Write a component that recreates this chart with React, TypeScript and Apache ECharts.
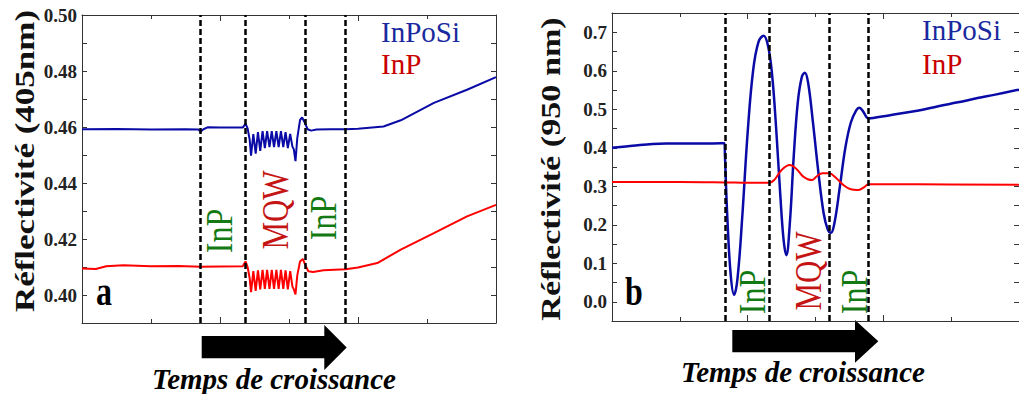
import React, { useEffect, useRef } from "react";
import * as echarts from "echarts";

// ---------- Panel a (405 nm) ----------
const aBlueX = [0, 0.5, 1.0, 1.5, 1.69, 1.717, 1.76, 1.82, 2.0, 2.33, 2.37, 2.40, 2.43, 2.45, 2.483, 2.517, 2.55, 2.583, 2.617, 2.65, 2.683, 2.717, 2.75, 2.783, 2.817, 2.85, 2.883, 2.917, 2.95, 2.983, 3.017, 3.05, 3.07, 3.094, 3.12, 3.16, 3.19, 3.23, 3.27, 3.32, 3.4, 3.6, 3.82, 4.0, 4.37, 4.62, 5.1, 5.58, 6.0];
const aBlueY = [0.4592, 0.4593, 0.4591, 0.4592, 0.4591, 0.4583, 0.4592, 0.4599, 0.4598, 0.4598, 0.4612, 0.4595, 0.4555, 0.4498, 0.4575, 0.4505, 0.4582, 0.4515, 0.4585, 0.4525, 0.4585, 0.4528, 0.4585, 0.4528, 0.4585, 0.4528, 0.4585, 0.4528, 0.4582, 0.4525, 0.4575, 0.4530, 0.4520, 0.4478, 0.4560, 0.4625, 0.4634, 0.4615, 0.4592, 0.4587, 0.4591, 0.4592, 0.4592, 0.4594, 0.4602, 0.4624, 0.4686, 0.4733, 0.4778];
const aRedX = [0, 0.2, 0.35, 0.6, 1.0, 1.4, 1.717, 2.0, 2.33, 2.37, 2.40, 2.43, 2.45, 2.483, 2.517, 2.55, 2.583, 2.617, 2.65, 2.683, 2.717, 2.75, 2.783, 2.817, 2.85, 2.883, 2.917, 2.95, 2.983, 3.017, 3.05, 3.07, 3.094, 3.12, 3.16, 3.20, 3.24, 3.28, 3.35, 3.5, 3.82, 4.0, 4.28, 4.62, 5.1, 5.58, 6.0];
const aRedY = [0.4095, 0.4093, 0.4103, 0.4106, 0.4103, 0.4104, 0.4101, 0.4102, 0.4103, 0.4120, 0.4100, 0.4060, 0.4010, 0.4085, 0.4015, 0.4088, 0.4020, 0.4090, 0.4022, 0.4090, 0.4022, 0.4090, 0.4022, 0.4090, 0.4022, 0.4090, 0.4022, 0.4088, 0.4020, 0.4085, 0.4030, 0.4020, 0.4002, 0.4070, 0.4120, 0.4129, 0.4105, 0.4085, 0.4082, 0.4088, 0.4092, 0.4098, 0.4114, 0.4162, 0.4221, 0.4281, 0.4322];
const aDividers = [1.717, 2.37, 3.244, 3.822];

// ---------- Panel b (950 nm) ----------
const bBlueX = [0, 0.3, 0.6, 0.8, 1.2, 1.658, 1.665, 1.70, 1.75, 1.80, 1.85, 1.92, 2.00, 2.08, 2.16, 2.236, 2.30, 2.36, 2.42, 2.48, 2.53, 2.57, 2.62, 2.68, 2.74, 2.80, 2.843, 2.89, 2.96, 3.04, 3.12, 3.18, 3.227, 3.28, 3.36, 3.44, 3.52, 3.60, 3.647, 3.70, 3.75, 3.783, 3.85, 4.08, 4.5, 4.81, 5.1, 5.39, 5.65, 6.0];
const bBlueY = [0.400, 0.405, 0.410, 0.411, 0.411, 0.412, 0.380, 0.220, 0.070, 0.018, 0.060, 0.220, 0.440, 0.600, 0.675, 0.691, 0.665, 0.590, 0.450, 0.280, 0.160, 0.121, 0.200, 0.380, 0.520, 0.585, 0.595, 0.570, 0.470, 0.340, 0.230, 0.188, 0.179, 0.205, 0.300, 0.400, 0.465, 0.497, 0.504, 0.495, 0.480, 0.476, 0.477, 0.484, 0.496, 0.508, 0.518, 0.529, 0.538, 0.551];
const bRedX = [0, 1.0, 1.66, 2.0, 2.32, 2.40, 2.50, 2.62, 2.72, 2.82, 2.946, 3.02, 3.10, 3.20, 3.30, 3.42, 3.52, 3.62, 3.72, 3.78, 4.5, 6.0];
const bRedY = [0.311, 0.311, 0.310, 0.309, 0.309, 0.318, 0.342, 0.355, 0.345, 0.325, 0.316, 0.326, 0.334, 0.334, 0.322, 0.302, 0.292, 0.290, 0.298, 0.305, 0.305, 0.304];
const bDividers = [1.671, 2.319, 3.197, 3.777];

const legendLabels = ["InPoSi", "InP"];
const layerLabels = ["InP", "MQW", "InP"];
const yTitleA = "Réflectivité (405nm)";
const yTitleB = "Réflectivité (950 nm)";
const xTitle = "Temps de croissance";

const SERIF = "Liberation Serif";
const BLUE = "#0a0aa6";
const RED = "#ff0000";
const AXIS = "#333";
const GREEN = "#137a13";
const DRED = "#c41414";

const pairs = (xs: number[], ys: number[]) => xs.map((x, i) => [x, ys[i]]);

function xAxisDef(grid: number, pos: "bottom" | "top") {
  return {
    type: "value",
    gridIndex: grid,
    position: pos,
    min: 0,
    max: 6,
    interval: 2,
    axisLine: { show: true, onZero: false, lineStyle: { color: AXIS, width: 1 } },
    axisTick: { show: true, inside: true, length: 6, lineStyle: { color: AXIS } },
    minorTick: { show: true, splitNumber: 2, length: 4, lineStyle: { color: AXIS } },
    axisLabel: { show: false },
    splitLine: { show: false },
  };
}

function yAxisDef(grid: number, pos: "left" | "right", min: number, max: number, interval: number, fmt: ((v: number) => string) | null) {
  return {
    type: "value",
    gridIndex: grid,
    position: pos,
    min,
    max,
    interval,
    axisLine: { show: true, onZero: false, lineStyle: { color: AXIS, width: 1 } },
    axisTick: { show: true, inside: true, length: 5, lineStyle: { color: AXIS } },
    axisLabel: fmt
      ? {
          show: true,
          interval: 0,
          formatter: fmt,
          fontFamily: SERIF,
          fontWeight: "bold",
          fontSize: 19,
          color: "#222",
          margin: 5,
          showMinLabel: true,
          showMaxLabel: true,
        }
      : { show: false },
    splitLine: { show: false },
  };
}

function dividerMark(vals: number[]) {
  return {
    silent: true,
    symbol: ["none", "none"],
    label: { show: false },
    lineStyle: { color: "#000", type: [6, 3], width: 2.5 },
    data: vals.map((v) => ({ xAxis: v })),
  };
}

function vText(text: string, x: number, y: number, color: string, size: number, sy: number) {
  return {
    type: "text",
    x,
    y,
    rotation: Math.PI / 2,
    scaleY: sy,
    style: {
      text,
      fill: color,
      fontFamily: SERIF,
      fontSize: size,
      textAlign: "center",
      textVerticalAlign: "middle",
    },
  };
}

function hText(text: string, x: number, y: number, color: string, size: number, weight: string, fstyle: string, align: string, sx = 1) {
  return {
    type: "text",
    x,
    y,
    scaleX: sx,
    style: {
      text,
      fill: color,
      fontFamily: SERIF,
      fontSize: size,
      fontWeight: weight,
      fontStyle: fstyle,
      textAlign: align,
      textVerticalAlign: "bottom",
    },
  };
}

function arrow(x0: number, x1: number, x2: number, bTop: number, bBot: number, hTop: number, hBot: number) {
  const tip = (hTop + hBot) / 2;
  return {
    type: "polygon",
    shape: {
      points: [
        [x0, bTop],
        [x1, bTop],
        [x1, hTop],
        [x2, tip],
        [x1, hBot],
        [x1, bBot],
        [x0, bBot],
      ],
    },
    style: { fill: "#000" },
  };
}

export default function App() {
  const ref = useRef<HTMLDivElement>(null);
  useEffect(() => {
    if (!ref.current) return;
    const chart = echarts.init(ref.current, null, { renderer: "svg" });
    const fmtA = (v: number) => {
      const k = Math.round(v * 100);
      return k % 2 === 0 ? v.toFixed(2) : "";
    };
    const fmtB = (v: number) => {
      const k = Math.round(v * 100);
      return k >= 0 && k % 10 === 0 ? v.toFixed(1) : "";
    };
    chart.setOption({
      animation: false,
      backgroundColor: "#fff",
      grid: [
        { left: 82, top: 15, width: 414, height: 308, containLabel: false },
        { left: 612, top: 13, width: 414, height: 308, containLabel: false },
      ],
      xAxis: [xAxisDef(0, "bottom"), xAxisDef(0, "top"), xAxisDef(1, "bottom"), xAxisDef(1, "top")],
      yAxis: [
        yAxisDef(0, "left", 0.39, 0.5, 0.01, fmtA),
        yAxisDef(0, "right", 0.39, 0.5, 0.01, null),
        yAxisDef(1, "left", -0.05, 0.75, 0.05, fmtB),
        yAxisDef(1, "right", -0.05, 0.75, 0.05, null),
      ],
      series: [
        {
          type: "line",
          xAxisIndex: 0,
          yAxisIndex: 0,
          data: pairs(aBlueX, aBlueY),
          showSymbol: false,
          lineStyle: { color: BLUE, width: 2 },
          markLine: dividerMark(aDividers),
        },
        {
          type: "line",
          xAxisIndex: 0,
          yAxisIndex: 0,
          data: pairs(aRedX, aRedY),
          showSymbol: false,
          lineStyle: { color: RED, width: 2 },
        },
        {
          type: "line",
          xAxisIndex: 2,
          yAxisIndex: 2,
          data: pairs(bBlueX, bBlueY),
          smooth: 0.4,
          showSymbol: false,
          lineStyle: { color: BLUE, width: 2.5 },
        },
        {
          type: "line",
          xAxisIndex: 2,
          yAxisIndex: 2,
          data: pairs(bRedX, bRedY),
          smooth: 0.4,
          showSymbol: false,
          lineStyle: { color: RED, width: 2 },
          markLine: dividerMark(bDividers),
        },
      ],
      graphic: [
        // y titles
        {
          type: "text",
          x: 25,
          y: 161,
          rotation: Math.PI / 2,
          scaleX: 1.25,
          style: { text: yTitleA, fill: "#111", fontFamily: SERIF, fontWeight: "bold", fontSize: 28, textAlign: "center", textVerticalAlign: "middle" },
        },
        {
          type: "text",
          x: 551,
          y: 169,
          rotation: Math.PI / 2,
          scaleX: 1.22,
          style: { text: yTitleB, fill: "#111", fontFamily: SERIF, fontWeight: "bold", fontSize: 28, textAlign: "center", textVerticalAlign: "middle" },
        },
        // legends
        hText(legendLabels[0], 381, 46, "#1a2a9e", 29, "normal", "normal", "left"),
        hText(legendLabels[1], 381, 78, "#c80000", 29, "normal", "normal", "left"),
        hText(legendLabels[0], 922, 44, "#1a2a9e", 29, "normal", "normal", "left"),
        hText(legendLabels[1], 922, 78, "#c80000", 29, "normal", "normal", "left"),
        // panel letters
        hText("a", 96, 312, "#000", 40, "bold", "normal", "left", 0.8),
        hText("b", 625, 312, "#000", 40, "bold", "normal", "left", 0.8),
        // layer labels a
        vText(layerLabels[0], 220, 231, GREEN, 32, 1.2),
        vText(layerLabels[1], 275, 210, DRED, 31, 1.2),
        vText(layerLabels[2], 324, 218, GREEN, 32, 1.2),
        // layer labels b
        vText(layerLabels[0], 753, 292, GREEN, 32, 1.2),
        vText(layerLabels[1], 808, 271, DRED, 31, 1.2),
        vText(layerLabels[2], 855, 292, GREEN, 32, 1.2),
        // arrows
        arrow(201.7, 324.3, 346.7, 336, 358.3, 325, 370),
        arrow(732.3, 855, 878.3, 330, 352.3, 320, 362.7),
        // x titles
        hText(xTitle, 274, 393, "#000", 29, "bold", "italic", "center"),
        hText(xTitle, 803, 386, "#000", 29, "bold", "italic", "center"),
      ],
    });
    return () => chart.dispose();
  }, []);
  return <div ref={ref} style={{ position: "absolute", left: 0, top: 0, width: 1019, height: 394 }} />;
}
